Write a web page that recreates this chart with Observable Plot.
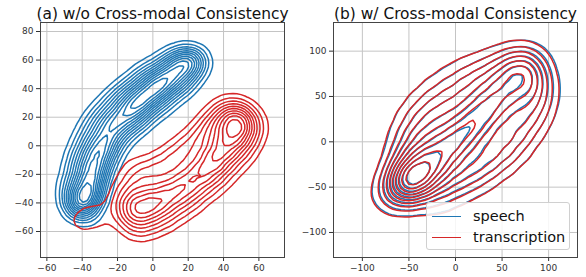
<!DOCTYPE html>
<html>
<head>
<meta charset="utf-8">
<script src="https://cdn.jsdelivr.net/npm/d3@7"></script>
<script src="https://cdn.jsdelivr.net/npm/@observablehq/plot@0.6"></script>
<style>
  html, body { margin: 0; padding: 0; background: white; }
  #wrap { position: relative; width: 586px; height: 277px; display: flex; font-family: "DejaVu Sans", sans-serif; }
  #wrap svg { display: block; }
  #legend { position: absolute; left: 426px; top: 202px; width: 142px; height: 46px; background: rgba(255,255,255,0.85); border: 1px solid #d0d0d0; border-radius: 3px; font-size: 14.5px; color: #111; }
  .row { position: absolute; left: 5px; height: 20px; display: flex; align-items: center; }
  .sw { width: 29px; height: 0; border-top: 1.5px solid; margin-right: 12px; }
</style>
</head>
<body>
<div id="wrap"></div>
<script>
// ---- data ----
const titles = ["(a) w/o Cross-modal Consistency", "(b) w/ Cross-modal Consistency"];
const seriesNames = ["speech", "transcription"];
const colors = ["#1f77b4", "#d62728"];
const ticksA = [-60, -40, -20, 0, 20, 40, 60];
const yticksA = [-60, -40, -20, 0, 20, 40, 60, 80];
const ticksB = [-100, -50, 0, 50, 100];

// panel (a) speech embeddings: [x, y, weight]
const speechA = [
  // ridge
  [-42,-44,1.6],[-39,-36,2.4],[-37,-27,2.2],[-35,-18,2],[-33,-9,2],[-30,0,2],[-26,9,2],[-21,17,2.1],
  [-15,24,2.3],[-9,30,2.4],[-3,36,2.5],[3,42,2.4],[9,48,2.1],[15,54,1.8],[20,59,1.3],[24,62,0.7],
  // upper-left side
  [-47,-38,0.9],[-46,-28,1],[-44,-18,1],[-42,-8,1],[-39,2,1],[-35,12,1],[-30,21,1],[-24,29,1],
  [-18,35,1],[-12,41,1],[-6,47,1],[0,52,1],[7,57,0.9],[13,61,0.7],[18,64,0.5],
  // lower-right side
  [-36,-46,0.9],[-33,-36,1],[-31,-26,1],[-28,-16,1],[-25,-7,1],[-21,2,1],[-15,10,1],[-9,17,1],
  [-3,23,1],[3,29,1],[9,35,1],[15,41,1],[20,47,0.9],[24,53,0.6],[27,58,0.4]
];
// panel (a) transcription embeddings
const transA = [
  // ridge
  [-14,-45,1.8],[-6,-42,2.4],[2,-38,2.2],[10,-32,2],[18,-26,2],[26,-18,2],[33,-10,2.1],[39,-2,2.2],
  [44,7,2.2],[47,15,2.2],[50,21,1.5],
  // upper-left side
  [-16,-33,0.9],[-9,-26,1],[-2,-20,1],[5,-14,1],[13,-8,1],[20,-1,1],[27,6,1.1],[33,13,1.2],
  [38,20,1.2],[44,25,1],
  // lower-right side
  [-10,-56,1],[-2,-54,1],[6,-50,1],[14,-44,1],[22,-37,1],[30,-29,1],[37,-21,1],[44,-12,1],
  [50,-3,1.1],[54,6,1.1],[57,15,0.9],
  // tail and bump
  [-43,-53,0.45],[-35,-50,0.45],[-28,-48,0.4],[-12,-15,0.4]
];
// panel (b) transcription embeddings
const transB = [
  // diagonal ridge
  [-62,-53,1.2],[-56,-49,2.2],[-46,-41,2.5],[-34,-30,2.4],[-22,-19,2.4],[-10,-8,2.5],[2,3,2.6],[14,14,2.6],
  [26,26,2.5],[38,38,2.3],[50,50,2.1],[62,62,1.8],[72,74,1.4],[80,86,1],
  // lower fan
  [-40,-52,0.9],[-22,-46,1.2],[-4,-38,1.4],[14,-28,1.5],[30,-16,1.5],[46,-3,1.4],[60,12,1.3],
  [72,28,1.2],[82,45,1.1],[86,62,0.9],
  [-20,-60,0.5],[5,-55,0.6],[28,-42,0.7],[50,-25,0.7],[68,-8,0.7],[84,14,0.6],[90,35,0.5],
  // upper fan
  [-55,-34,0.9],[-48,-18,1.2],[-40,-2,1.4],[-30,14,1.5],[-17,28,1.5],[-2,42,1.4],[14,55,1.3],
  [30,66,1.2],[48,78,1.1],[64,88,0.9],
  [-62,-18,0.5],[-58,4,0.6],[-50,24,0.7],[-38,42,0.7],[-22,58,0.7],[-4,72,0.6],[16,82,0.6],
  [40,90,0.5],[70,94,0.4],
  // outer corners
  [-80,-68,0.3],[-84,-52,0.3],[-55,-74,0.3],[-20,-76,0.3],[88,76,0.6],[92,55,0.5]
];
// panel (b) speech embeddings
const speechB = [
  [-61,-52,1.2],[-55,-48,2.3],[-45,-40,2.6],[-33,-29,2.4],[-21,-18,2.4],[-9,-7,2.5],[3,4,2.6],[15,15,2.6],
  [27,27,2.5],[39,39,2.3],[51,51,2.1],[63,63,1.8],[73,75,1.4],[82,87,1],
  [-39,-51,0.9],[-21,-45,1.2],[-3,-37,1.4],[15,-27,1.5],[31,-15,1.5],[47,-2,1.4],[61,13,1.3],
  [73,29,1.2],[83,46,1.1],[88,63,0.9],
  [-19,-59,0.5],[6,-54,0.6],[29,-41,0.7],[51,-24,0.7],[69,-7,0.7],[85,15,0.6],[91,36,0.5],
  [-54,-33,0.9],[-47,-17,1.2],[-39,-1,1.4],[-29,15,1.5],[-16,29,1.5],[-1,43,1.4],[15,56,1.3],
  [31,67,1.2],[49,79,1.1],[65,88,0.9],
  [-61,-17,0.5],[-57,5,0.6],[-49,25,0.7],[-37,43,0.7],[-21,58,0.7],[-3,72,0.6],[17,82,0.6],
  [41,89,0.5],[72,93,0.4],
  [-79,-67,0.3],[-83,-51,0.3],[-54,-73,0.3],[-19,-75,0.3],[90,76,0.6],[93,55,0.5]
];

function panel({title, xdomain, ydomain, xticks, yticks, sets, bandwidth, thresholds}) {
  return Plot.plot({
    width: 293, height: 277,
    marginTop: 22, marginBottom: 20, marginLeft: 40, marginRight: 9,
    style: {fontFamily: "DejaVu Sans", fontSize: "9px", color: "#333", background: "white", overflow: "visible"},
    x: {domain: xdomain, ticks: xticks, tickSize: 4, tickPadding: 3, label: null, tickFormat: d => String(d).replace("-", "\u2212")},
    y: {domain: ydomain, ticks: yticks, tickSize: 4, tickPadding: 3, label: null, tickFormat: d => String(d).replace("-", "\u2212")},
    marks: [
      Plot.gridX(xticks, {stroke: "#c4c4c4", strokeOpacity: 1, strokeWidth: 1}),
      Plot.gridY(yticks, {stroke: "#c4c4c4", strokeOpacity: 1, strokeWidth: 1}),
      ...sets.map(({data, color}, i) => Plot.density(data, {
        x: d => d[0], y: d => d[1], weight: d => d[2],
        bandwidth: bandwidth[i], thresholds: thresholds[i],
        stroke: color, strokeWidth: 1.5, strokeOpacity: 1
      })),
      Plot.frame({stroke: "#444", strokeWidth: 1}),
      Plot.text([title], {text: d => d, frameAnchor: "top", lineAnchor: "bottom", dy: -4, fontSize: 15.4, fill: "#111"})
    ]
  });
}

const wrap = document.getElementById("wrap");
wrap.append(panel({
  title: titles[0], xdomain: [-63.6, 74.5], ydomain: [-78.2, 86.3],
  xticks: ticksA, yticks: yticksA,
  sets: [{data: speechA, color: colors[0]}, {data: transA, color: colors[1]}],
  bandwidth: [7, 9], thresholds: [13, 11]
}));
wrap.append(panel({
  title: titles[1], xdomain: [-131, 131], ydomain: [-127.6, 131.6],
  xticks: ticksB, yticks: ticksB,
  sets: [{data: speechB, color: colors[0]}, {data: transB, color: colors[1]}],
  bandwidth: [12, 12], thresholds: [11, 11]
}));

const legend = document.createElement("div");
legend.id = "legend";
legend.innerHTML = seriesNames.map((n, i) =>
  `<div class="row" style="top:${3 + i * 21}px"><div class="sw" style="border-color:${colors[i]}"></div><span>${n}</span></div>`).join("");
wrap.append(legend);
</script>
</body>
</html>
